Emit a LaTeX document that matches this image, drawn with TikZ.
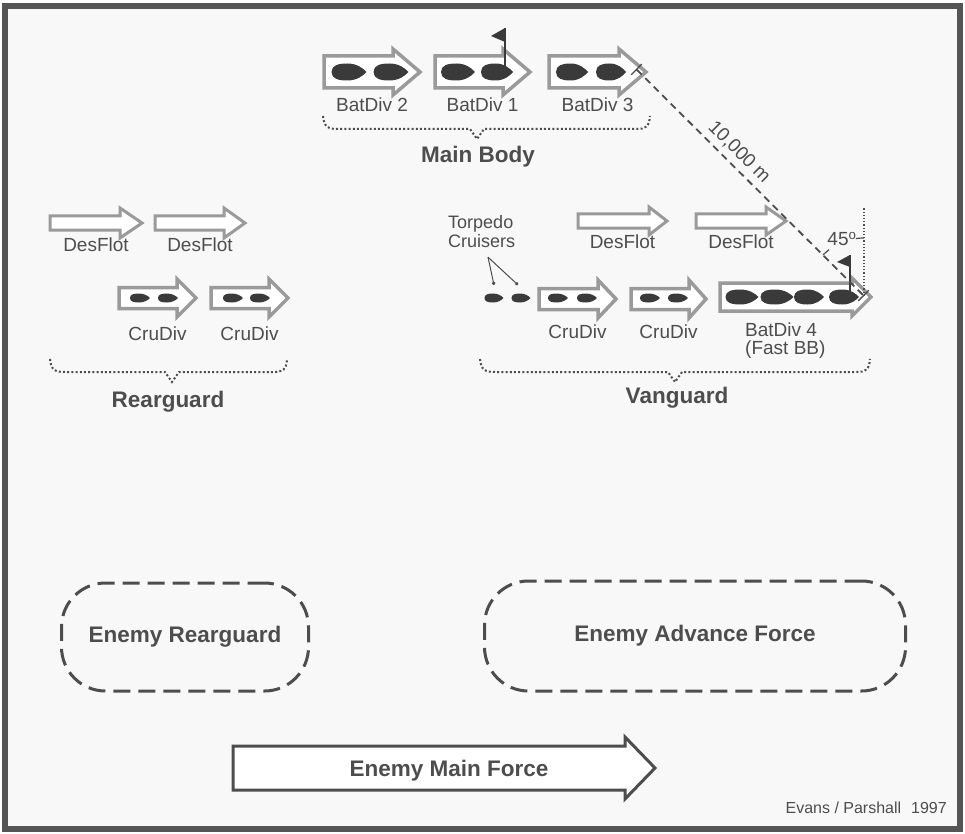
\documentclass[tikz,border=0pt]{standalone}
\usepackage{fontspec}
\setmainfont{Liberation Sans}
\usetikzlibrary{positioning, arrows.meta, calc}

\definecolor{ink}{HTML}{4D4D4D}
\definecolor{shaftgray}{HTML}{9A9A9A}
\definecolor{hullgray}{HTML}{3A3A3A}
\definecolor{framegray}{HTML}{555555}
\definecolor{paper}{HTML}{F8F8F8}

% hollow formation arrow: [style]{name}{left}{y}{head base}{tip}{half shaft}{half head}
\newcommand{\fleet}[8][fleetline]{%
  \draw[#1] (#3,#4-#7) -- (#5,#4-#7) -- (#5,#4-#8) -- (#6,#4) -- (#5,#4+#8) -- (#5,#4+#7) -- (#3,#4+#7) -- cycle;
  \coordinate (#2) at ({(#3+#6)/2},#4);}

% ship silhouette: {name}{x}{y}{half length}{half beam}
\newcommand{\ship}[5]{%
  \fill[hull] (#2-#4,#3) .. controls (#2-#4,#3-0.8*#5) and (#2-0.6*#4,#3-#5) .. (#2-0.1*#4,#3-#5)
    .. controls (#2+0.45*#4,#3-#5) and (#2+0.8*#4,#3-0.45*#5) .. (#2+#4,#3)
    .. controls (#2+0.8*#4,#3+0.45*#5) and (#2+0.45*#4,#3+#5) .. (#2-0.1*#4,#3+#5)
    .. controls (#2-0.6*#4,#3+#5) and (#2-#4,#3+0.8*#5) .. cycle;
  \coordinate (#1) at (#2,#3);}

\begin{document}
\begin{tikzpicture}[x=1pt, y=-1pt,
    fleetline/.style={draw=shaftgray, line width=3.5pt, fill=white},
    desline/.style={draw=shaftgray, line width=3pt, fill=white},
    forceline/.style={draw=ink, line width=3pt, fill=white},
    hull/.style={fill=hullgray},
    lbl/.style={font=\fontsize{19}{18}\selectfont, text=ink, inner sep=0pt},
    grplbl/.style={font=\fontsize{22.5}{25}\selectfont\bfseries, text=ink, inner sep=0pt},
    grp/.style={draw=ink, line width=2pt, dash pattern=on 2pt off 2.2pt},
    enemy/.style={draw=ink, line width=3pt, dash pattern=on 17pt off 8pt, rounded corners=44pt, font=\fontsize{22.5}{25}\selectfont\bfseries, text=ink},
    dist/.style={draw=ink, line width=1.8pt, dash pattern=on 7pt off 5pt},
    vert/.style={draw=ink, line width=1.2pt, dash pattern=on 1.2pt off 2pt},
    angmark/.style={draw=ink, line width=1.2pt},
    pointer/.style={draw=ink, line width=1pt, -{Circle[length=3.5pt]}},
    flagpole/.style={draw=hullgray, line width=1.5pt},
    flagcloth/.style={fill=hullgray}
]
\useasboundingbox (0,0) rectangle (965,834);
\draw[line width=6pt, draw=framegray, fill=paper] (5,6) rectangle (960,829);

% Main Body
\fleet{bd2}{324}{72}{393}{420}{16}{23}
\fleet{bd1}{435}{72}{503}{530}{16}{23}
\fleet{bd3}{549}{72}{619}{646}{16}{23}
\ship{bd2a}{349}{72}{17.5}{8.5}
\ship{bd2b}{391}{72}{17.5}{8.5}
\ship{bd1a}{458}{72}{17}{8.5}
\ship{bd1b}{497}{72}{16}{8.5}
\ship{bd3a}{572}{72}{16}{8.5}
\ship{bd3b}{611}{72}{15}{8.5}
\draw[flagpole] ([xshift=8pt]bd1b) -- ++(0,-44) coordinate (flag1);
\fill[flagcloth] (flag1) -- ++(-14,8) -- ++(14,6) -- cycle;
\node[lbl, below=26pt of bd2] (bd2lbl) {BatDiv 2};
\node[lbl, below=26pt of bd1] (bd1lbl) {BatDiv 1};
\node[lbl, below=26pt of bd3] (bd3lbl) {BatDiv 3};
\draw[grp] (323,116) .. controls (324,127) and (328,129) .. (338,129) -- (470,129) -- (477,139) -- (484,129) -- (636,129) .. controls (646,129) and (649,127) .. (650,116);
\node[grplbl] (mainbody) at (478,157) {Main Body};

% Rearguard
\fleet[desline]{df1}{50}{223}{120}{142}{7}{15}
\fleet[desline]{df2}{155}{223}{224}{245}{7}{15}
\node[lbl, below=15pt of df1] (df1lbl) {DesFlot};
\node[lbl, below=15pt of df2] (df2lbl) {DesFlot};
\fleet{cr1}{119}{298}{177}{196}{10.5}{19}
\fleet{cr2}{211}{298}{269}{288}{10.5}{19}
\ship{cr1a}{140}{298}{10}{4.5}
\ship{cr1b}{168}{298}{10}{4.5}
\ship{cr2a}{233}{298}{10}{4.5}
\ship{cr2b}{260}{298}{10}{4.5}
\node[lbl, below=29pt of cr1] (cr1lbl) {CruDiv};
\node[lbl, below=29pt of cr2] (cr2lbl) {CruDiv};
\draw[grp] (50,359) .. controls (51,370) and (55,372) .. (65,372) -- (165,372) -- (172,382) -- (179,372) -- (273,372) .. controls (283,372) and (286,370) .. (287,360);
\node[grplbl] (rearguard) at (168,402) {Rearguard};

% Vanguard
\node[lbl, font=\fontsize{18}{19.5}\selectfont, align=left, anchor=north west] (torp) at (448,215) {Torpedo\\Cruisers};
\ship{tor1}{494}{298}{9.5}{4.5}
\ship{tor2}{521}{298}{9.5}{4.5}
\coordinate (torpfoot) at ([xshift=40pt,yshift=-9pt]torp.south west);
\draw[pointer] (torpfoot) -- ([yshift=13pt]tor1);
\draw[pointer] (torpfoot) -- ([xshift=-3pt,yshift=13pt]tor2);
\fleet[desline]{df3}{578}{221}{649}{667}{7}{14}
\fleet[desline]{df4}{696}{221}{766}{786}{7}{14}
\node[lbl, below=14pt of df3] (df3lbl) {DesFlot};
\node[lbl, below=14pt of df4] (df4lbl) {DesFlot};
\fleet{cv1}{539}{299}{598}{616}{10.5}{19}
\fleet{cv2}{631}{299}{689}{706}{10.5}{19}
\ship{cv1a}{558}{298}{10}{4.5}
\ship{cv1b}{587}{298}{10}{4.5}
\ship{cv2a}{650}{298}{10}{4.5}
\ship{cv2b}{678}{298}{10}{4.5}
\node[lbl, below=26pt of cv1] (cv1lbl) {CruDiv};
\node[lbl, below=26pt of cv2] (cv2lbl) {CruDiv};
\fleet{bd4}{720}{297}{852}{871}{14}{19}
\ship{bd4a}{742}{297}{16.5}{7.5}
\ship{bd4b}{777}{297}{16.5}{7.5}
\ship{bd4c}{809}{297}{15}{7.5}
\ship{bd4d}{844}{297}{15}{7.5}
\draw[flagpole] ([xshift=6pt]bd4d) -- ++(0,-42) coordinate (flag4);
\fill[flagcloth] (flag4) -- ++(-13,7) -- ++(13,5) -- cycle;
\node[lbl, align=left, anchor=north west] (bd4lbl) at (745,323) {BatDiv 4\\(Fast BB)};
\draw[grp] (480,359) .. controls (481,370) and (485,372) .. (495,372) -- (668,372) -- (675,382) -- (682,372) -- (856,372) .. controls (866,372) and (869,370) .. (870,359);
\node[grplbl] (vanguard) at (677,398) {Vanguard};

% station distance and bearing
\coordinate (bd3ref) at (636,69);
\coordinate (bd4ref) at (864,296);
\coordinate (vtop) at (864,208);
\draw[dist, {Bar[width=15pt,line width=1.3pt]}-{Bar[width=15pt,line width=1.3pt]}] (bd3ref) -- node[lbl, pos=0.41, sloped, above, inner sep=5pt] (distlbl) {10,000 m} (bd4ref);
\draw[vert] (bd4ref) -- (vtop);
\draw[angmark] (bd4ref) ++(225:58) arc[start angle=225, end angle=233, radius=58];
\draw[angmark] (bd4ref) ++(262:58) arc[start angle=262, end angle=270, radius=58];
\node[lbl] (anglbl) at (842,239) {45\textsuperscript{o}};

% Enemy
\node[enemy, minimum width=247pt, minimum height=108pt] (erg) at (185,637) {Enemy Rearguard};
\node[enemy, minimum width=421pt, minimum height=110pt] (eaf) at (695,636) {Enemy Advance Force};
\fleet[forceline]{emf}{233}{768}{625}{655}{22}{31}
\node[grplbl] (emflbl) at (449,771) {Enemy Main Force};

\node[anchor=east, font=\fontsize{16}{18}\selectfont, text=ink, inner sep=0pt] (credit) at (947,808) {Evans / Parshall\hspace{10pt}1997};

\end{tikzpicture}
\end{document}
